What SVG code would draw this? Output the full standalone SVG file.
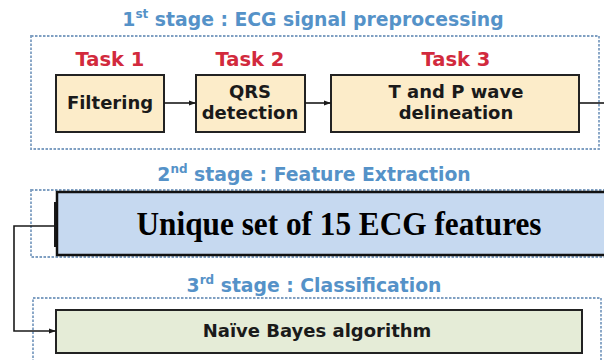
<svg xmlns="http://www.w3.org/2000/svg" width="604" height="360" viewBox="0 0 604 360">
<defs>
<style>
.stage{fill:none;stroke:#7f9fc2;stroke-width:1.8;stroke-dasharray:2.5 1.5}
.title{font-family:"DejaVu Sans",sans-serif;font-weight:bold;font-size:18.8px;fill:#5592c8;text-anchor:middle}
.sup{font-size:12px}
.task{font-family:"DejaVu Sans",sans-serif;font-weight:bold;font-size:19.5px;fill:#d22a3d;text-anchor:middle}
.box{fill:#fcecc9;stroke:#222;stroke-width:2}
.lbl{font-family:"DejaVu Sans",sans-serif;font-weight:bold;font-size:18px;fill:#1a1a1a;text-anchor:middle}
.conn{fill:none;stroke:#1a1a1a;stroke-width:1.6}
</style>
<marker id="ah" viewBox="0 0 10 10" refX="10" refY="5" markerWidth="7" markerHeight="7" orient="auto" markerUnits="userSpaceOnUse">
<path d="M0,1.5 L10,5 L0,8.5 z" fill="#1a1a1a"/>
</marker>
</defs>
<rect width="604" height="360" fill="#ffffff"/>

<g id="stage1">
<rect class="stage" x="31" y="36" width="568" height="113"/>
<text class="title" x="313" y="26">1<tspan class="sup" dy="-8">st</tspan><tspan dy="8"> stage : ECG signal preprocessing</tspan></text>
</g>
<g id="stage2">
<rect class="stage" x="31" y="190" width="580" height="67"/>
<text class="title" x="314" y="181">2<tspan class="sup" dy="-8">nd</tspan><tspan dy="8"> stage : Feature Extraction</tspan></text>
</g>
<g id="stage3">
<rect class="stage" x="33" y="298" width="568" height="70"/>
<text class="title" x="314" y="292">3<tspan class="sup" dy="-8">rd</tspan><tspan dy="8"> stage : Classification</tspan></text>
</g>

<g id="task1">
<text class="task" x="110" y="66">Task 1</text>
<rect class="box" x="56" y="75" width="108" height="57"/>
<text class="lbl" x="110" y="109">Filtering</text>
</g>
<g id="task2">
<text class="task" x="250" y="66">Task 2</text>
<rect class="box" x="196" y="75" width="109" height="57"/>
<text class="lbl" x="250" y="98">QRS</text>
<text class="lbl" x="250" y="119">detection</text>
</g>
<g id="task3">
<text class="task" x="456" y="66">Task 3</text>
<rect class="box" x="331" y="75" width="248" height="57"/>
<text class="lbl" x="456" y="98">T and P wave</text>
<text class="lbl" x="456" y="119">delineation</text>
</g>

<g id="features">
<line x1="55" y1="202" x2="55" y2="247" stroke="#1a1a1a" stroke-width="2"/>
<rect x="57" y="192" width="552" height="63" fill="#c6d9f0" stroke="#111" stroke-width="2.5"/>
<text x="339" y="235" font-family="'Liberation Serif',serif" font-weight="bold" font-size="34" fill="#000" text-anchor="middle" textLength="405" lengthAdjust="spacingAndGlyphs">Unique set of 15 ECG features</text>
</g>

<g id="classifier">
<rect x="56" y="310" width="526" height="43" fill="#e5ecd7" stroke="#222" stroke-width="2"/>
<text class="lbl" x="317" y="337" font-size="18.5">Naïve Bayes algorithm</text>
</g>

<g id="connectors">
<path class="conn" d="M164,103 H196" marker-end="url(#ah)"/>
<path class="conn" d="M305,103 H331" marker-end="url(#ah)"/>
<path class="conn" d="M579,103 H604"/>
<path class="conn" d="M57,226 H14 V331 H56" marker-end="url(#ah)"/>
</g>
</svg>
